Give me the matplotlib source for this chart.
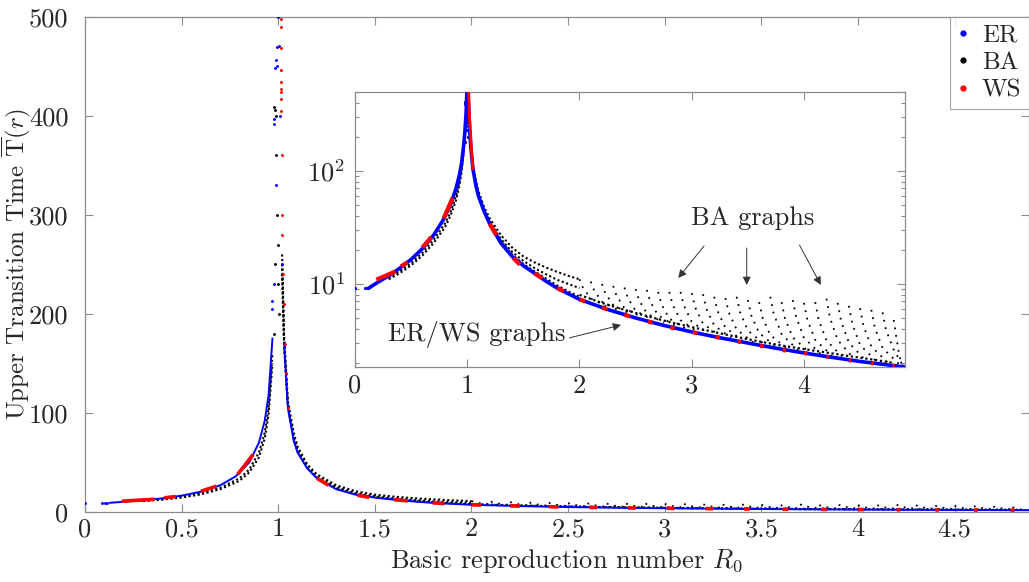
import matplotlib
matplotlib.use("Agg")
import matplotlib.pyplot as plt
from matplotlib.lines import Line2D
from matplotlib.ticker import FixedLocator, FormatStrFormatter, LogLocator, NullFormatter

plt.rcParams['font.family'] = 'serif'
plt.rcParams['font.serif'] = ['cmr10', 'DejaVu Serif']
plt.rcParams['mathtext.fontset'] = 'cm'
plt.rcParams['axes.formatter.use_mathtext'] = True

# ---------------- data ----------------
# ER: main curve
er_r0 = [0.13, 0.2, 0.3, 0.4, 0.5, 0.6, 0.7, 0.78, 0.85, 0.9, 0.93, 0.95, 0.97, 0.98,
         0.99, 0.995, 1.0, 1.005, 1.01, 1.02, 1.03, 1.05, 1.08, 1.1, 1.15, 1.2, 1.3,
         1.4, 1.5, 1.6, 1.7, 1.8, 2.0, 2.25, 2.5, 2.75, 3.0, 3.25, 3.5, 3.75, 4.0,
         4.25, 4.5, 4.75, 4.9]
er_t = [9.3, 10.3, 11.8, 13.8, 16.5, 20.5, 27, 36, 50, 70, 92, 118, 175, 230,
        330, 450, 500, 470, 400, 250, 170, 105, 72, 60, 44, 34, 23,
        17.5, 14.5, 12.4, 10.6, 9.2, 7.3, 5.95, 5.0, 4.3, 3.76, 3.34, 3.0, 2.7, 2.45,
        2.24, 2.06, 1.92, 1.84]
# ER: isolated points
er_dots_r0 = [0.0, 0.09, 0.105, 0.115, 0.98, 0.98, 0.985, 0.99, 0.992, 0.97, 0.97]
er_dots_t = [9.2, 9.2, 9.25, 9.3, 392, 397, 448, 456, 469, 213, 205]

# WS: short runs along the curve
ws_r0_start = [0.19, 0.41, 0.60, 0.79, 1.20, 1.41, 1.60, 1.80, 2.00, 2.20, 2.40, 2.61,
               2.81, 3.01, 3.21, 3.41, 3.61, 3.81, 4.00, 4.20, 4.40, 4.60, 4.79]
ws_r0_end = [0.36, 0.47, 0.68, 0.87, 1.26, 1.47, 1.67, 1.86, 2.05, 2.25, 2.45, 2.65,
             2.85, 3.05, 3.25, 3.44, 3.64, 3.84, 4.03, 4.22, 4.42, 4.62, 4.81]
ws_t_start = [10.9, 14.3, 21, 38, 34, 17, 12.4, 9.2, 7.3, 6.2, 5.35, 4.65,
              4.12, 3.74, 3.4, 3.1, 2.83, 2.6, 2.45, 2.27, 2.11, 1.99, 1.89]
ws_t_end = [12.9, 15.6, 26, 58, 27, 14.8, 11.2, 8.6, 7.0, 5.95, 5.15, 4.55,
            4.04, 3.65, 3.34, 3.05, 2.8, 2.57, 2.42, 2.25, 2.1, 1.98, 1.88]
# WS: points at the peak
ws_peak_r0 = [1.012, 1.013, 1.013, 1.014, 1.014, 1.015, 1.015, 1.016, 1.016, 1.017,
              1.019, 1.022, 1.026, 1.03, 1.035, 1.04, 1.05]
ws_peak_t = [498, 490, 468, 446, 434, 427, 424, 417, 405, 360,
             300, 280, 240, 210, 170, 140, 105]

# BA: band left of the peak
ba_left_r0 = [0.3, 0.4, 0.5, 0.6, 0.7, 0.8, 0.85, 0.9, 0.93, 0.95, 0.97]
ba_left_hi = [11.3, 13.0, 15.3, 18.8, 24.5, 34, 43, 60, 80, 105, 160]
ba_left_lo = [11.0, 12.5, 14.6, 17.8, 23, 31.5, 40, 55, 74, 98, 150]
# BA: isolated points at the peak
ba_peak_r0 = [0.98, 0.985, 0.99, 0.99, 0.995, 1.0, 1.0, 1.005, 0.985, 0.98]
ba_peak_t = [409, 406, 400, 360, 300, 270, 230, 200, 250, 180]
# BA: dense band right of the peak
ba_band_r0 = [1.02, 1.03, 1.05, 1.08, 1.1, 1.15, 1.2, 1.3, 1.4, 1.5, 1.6, 1.7, 1.8, 1.9, 2.0]
ba_band_hi = [260, 180, 112, 80, 66, 48, 38, 27, 21, 17.5, 15.5, 14.0, 12.8, 11.8, 11.0]
ba_band_mid = [240, 170, 106, 75, 62, 45, 35.5, 25, 19.2, 16.0, 13.8, 12.2, 10.9, 10.0, 9.2]
ba_band_lo = [250, 172, 107, 74, 61, 45, 35, 24, 18.2, 15.0, 12.9, 11.2, 9.7, 8.6, 7.7]
# BA: band just above the ER curve
ba_floor_r0 = [2.0, 2.2, 2.4, 2.6, 2.8, 3.0, 3.2, 3.4, 3.6, 3.8, 4.0, 4.2, 4.4, 4.6, 4.8]
ba_floor_t = [8.0, 6.8, 5.9, 5.2, 4.6, 4.15, 3.75, 3.4, 3.1, 2.85, 2.65, 2.47, 2.3, 2.15, 2.0]
# BA: fan arcs (top, then down to the curve)
ba_arcs_r0 = [
    [2.0, 2.03, 2.1, 2.25], [2.1, 2.13, 2.2, 2.35], [2.2, 2.23, 2.3, 2.45],
    [2.3, 2.33, 2.4, 2.55], [2.4, 2.43, 2.5, 2.65], [2.5, 2.53, 2.6, 2.75],
    [2.6, 2.63, 2.7, 2.85], [2.7, 2.73, 2.8, 2.95], [2.8, 2.83, 2.9, 3.05],
    [2.9, 2.93, 3.0, 3.15], [3.0, 3.03, 3.1, 3.25], [3.1, 3.13, 3.2, 3.35],
    [3.2, 3.23, 3.3, 3.45], [3.3, 3.33, 3.4, 3.55], [3.4, 3.43, 3.5, 3.65],
    [3.5, 3.53, 3.6, 3.75], [3.6, 3.63, 3.7, 3.85], [3.7, 3.73, 3.8, 3.95],
    [3.8, 3.83, 3.9, 4.05], [3.9, 3.93, 4.0, 4.15], [4.0, 4.03, 4.1, 4.25],
    [4.1, 4.13, 4.2, 4.35], [4.2, 4.23, 4.3, 4.45], [4.3, 4.33, 4.4, 4.55],
    [4.4, 4.43, 4.5, 4.65], [4.5, 4.53, 4.6, 4.75], [4.6, 4.63, 4.7, 4.85],
    [4.7, 4.73, 4.8, 4.88], [4.8, 4.82, 4.85, 4.88]]
ba_arcs_t = [
    [11.0, 9.3, 7.44, 6.25], [10.5, 8.8, 6.96, 5.83], [10.0, 8.3, 6.51, 5.43],
    [9.6, 7.87, 6.12, 5.09], [9.3, 7.52, 5.79, 4.8], [9.0, 7.2, 5.5, 4.52],
    [8.85, 6.98, 5.28, 4.28], [8.5, 6.63, 4.93, 3.99], [8.5, 6.52, 4.78, 3.78],
    [8.5, 6.43, 4.62, 3.62], [8.3, 6.23, 4.45, 3.48], [8.1, 6.04, 4.29, 3.33],
    [7.7, 5.76, 4.1, 3.17], [7.5, 5.58, 3.95, 3.03], [7.7, 5.63, 3.87, 2.91],
    [7.2, 5.29, 3.68, 2.79], [6.9, 5.07, 3.53, 2.68], [7.7, 5.46, 3.6, 2.57],
    [6.9, 4.97, 3.36, 2.48], [7.2, 5.09, 3.34, 2.39], [6.8, 4.82, 3.2, 2.31],
    [6.9, 4.84, 3.16, 2.23], [7.4, 5.08, 3.19, 2.15], [6.8, 4.71, 3.02, 2.1],
    [6.4, 4.46, 2.88, 2.04], [6.1, 4.26, 2.79, 2.0], [5.9, 4.13, 2.71, 1.94],
    [5.6, 3.94, 2.61, 1.9], [4.8, 3.5, 2.3, 1.88]]

main_xticks = [0, 0.5, 1, 1.5, 2, 2.5, 3, 3.5, 4, 4.5]
main_yticks = [0, 100, 200, 300, 400, 500]
inset_xticks = [0, 1, 2, 3, 4]
legend_labels = ['ER', 'BA', 'WS']

BLUE = '#0000ff'
RED = '#ff0000'
BLACK = '#000000'
SPINE = '#8c8c8c'
TXT = '#262626'
FS = 19

fig = plt.figure(figsize=(10.29, 5.82), dpi=100)
ax = fig.add_axes([85 / 1029, 1 - 512 / 582, 944 / 1029, 495.3 / 582])
ins = fig.add_axes([355 / 1029, 1 - 367 / 582, 550 / 1029, 275 / 582])

arc_dot = (0, (1, 3.2))
band_dot = (0, (1, 1.2))


def draw(a, lw_er, lw_ws, ms, inset):
    # BA
    for xs, ys in zip(ba_arcs_r0, ba_arcs_t):
        a.plot(xs, ys, color=BLACK, lw=1.3, ls=arc_dot, zorder=2)
    for ys in (ba_left_hi, ba_left_lo):
        a.plot(ba_left_r0, ys, color=BLACK, lw=1.5, ls=band_dot, zorder=2)
    for ys in (ba_band_hi, ba_band_mid, ba_band_lo):
        a.plot(ba_band_r0, ys, color=BLACK, lw=1.5, ls=band_dot, zorder=2)
    a.plot(ba_floor_r0, ba_floor_t, color=BLACK, lw=1.6, ls=band_dot, zorder=2)
    a.plot(ba_peak_r0, ba_peak_t, ls='none', marker='.', ms=ms, color=BLACK, zorder=2)
    # ER
    if inset:
        a.plot(er_r0, er_t, color=BLUE, lw=lw_er, zorder=3)
    else:
        left = [(x, y) for x, y in zip(er_r0, er_t) if x < 1 and y <= 180]
        right = [(x, y) for x, y in zip(er_r0, er_t) if x > 1 and y <= 180]
        top = [(x, y) for x, y in zip(er_r0, er_t) if y > 180]
        for part in (left, right):
            a.plot([p[0] for p in part], [p[1] for p in part], color=BLUE, lw=lw_er, zorder=3)
        a.plot([p[0] for p in top], [p[1] for p in top], ls='none', marker='.', ms=ms,
               color=BLUE, zorder=3)
    a.plot(er_dots_r0, er_dots_t, ls='none', marker='.', ms=ms, color=BLUE, zorder=3)
    # WS
    for x0, x1, y0, y1 in zip(ws_r0_start, ws_r0_end, ws_t_start, ws_t_end):
        a.plot([x0, x1], [y0, y1], color=RED, lw=lw_ws, solid_capstyle='butt', zorder=4)
    if inset:
        a.plot(ws_peak_r0, ws_peak_t, color=RED, lw=lw_ws * 0.7, zorder=4)
    else:
        a.plot(ws_peak_r0, ws_peak_t, ls='none', marker='.', ms=ms, color=RED, zorder=4)


draw(ax, 1.4, 2.6, 2.2, False)
draw(ins, 2.6, 3.0, 2.5, True)

# ---- main axes styling ----
ax.set_xlim(0, 4.885)
ax.set_ylim(0, 500)
ax.xaxis.set_major_locator(FixedLocator(main_xticks))
ax.yaxis.set_major_locator(FixedLocator(main_yticks))
ax.xaxis.set_major_formatter(FormatStrFormatter('%g'))
ax.yaxis.set_major_formatter(FormatStrFormatter('%g'))
for a in (ax, ins):
    for s in a.spines.values():
        s.set_color(SPINE)
        s.set_linewidth(0.9)
    a.tick_params(direction='in', which='both', top=True, right=True, colors=SPINE,
                  labelcolor=TXT, labelsize=FS, width=0.8)
    a.tick_params(which='major', length=6)
    a.tick_params(which='minor', length=3)
ax.tick_params(axis='x', pad=4)
ax.tick_params(axis='y', pad=12)
ax.set_xlabel('Basic reproduction number $R_0$', fontsize=FS, color=TXT)
ax.set_ylabel(r'Upper Transition Time $\overline{\mathrm{T}}(r)$', fontsize=18, color=TXT)
ax.xaxis.set_label_coords(0.51, -0.072)
ax.yaxis.set_label_coords(-0.0555, 0.5)

# ---- inset styling ----
ins.set_yscale('log')
ins.set_xlim(0, 4.9)
ins.set_ylim(1.84, 500)
ins.xaxis.set_major_locator(FixedLocator(inset_xticks))
ins.xaxis.set_major_formatter(FormatStrFormatter('%g'))
ins.yaxis.set_major_locator(LogLocator(base=10, numticks=10))
ins.yaxis.set_minor_locator(LogLocator(base=10, subs=range(2, 10), numticks=20))
ins.yaxis.set_minor_formatter(NullFormatter())
ins.tick_params(axis='x', pad=5)
ins.tick_params(axis='y', pad=7)

arrow_kw = dict(arrowstyle='-|>', color='#333333', lw=0.7, shrinkA=0, shrinkB=0,
                mutation_scale=12)
ins.text(3.54, 38.4, 'BA graphs', ha='center', va='center', fontsize=FS, color=TXT)
ins.annotate('', xy=(2.88, 11.3), xytext=(3.11, 21.7), arrowprops=arrow_kw)
ins.annotate('', xy=(3.49, 9.8), xytext=(3.49, 20.8), arrowprops=arrow_kw)
ins.annotate('', xy=(4.15, 9.8), xytext=(3.96, 22.1), arrowprops=arrow_kw)
ins.text(1.085, 3.54, 'ER/WS graphs', ha='center', va='center', fontsize=FS, color=TXT)
ins.annotate('', xy=(2.37, 4.33), xytext=(1.91, 3.33), arrowprops=arrow_kw)

# ---- legend ----
handles = [Line2D([], [], ls='none', marker='.', ms=7, color=c) for c in (BLUE, BLACK, RED)]
leg = ax.legend(handles, legend_labels, loc='upper right', fontsize=FS - 1, frameon=True,
                fancybox=False, borderaxespad=0.0, handlelength=0.5, handletextpad=0.5,
                borderpad=0.3, labelspacing=0.2)
leg.get_frame().set_edgecolor(SPINE)
leg.get_frame().set_linewidth(0.8)
for t in leg.get_texts():
    t.set_color(TXT)

fig.savefig('out.png', dpi=100)
